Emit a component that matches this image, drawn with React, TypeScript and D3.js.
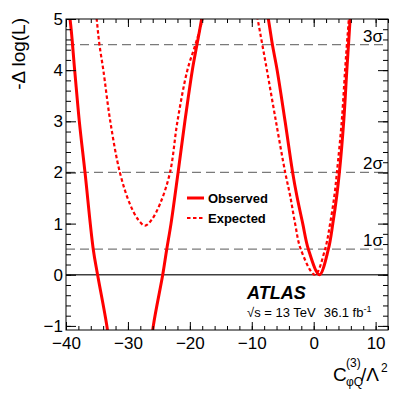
import React, { useEffect, useRef } from 'react';
import * as d3 from 'd3';

// observed likelihood scan
const obsX = [-40.3, -39.35, -38.6, -37.85, -36.93, -35.6, -34.9, -33.4, -32.4, -29.6, -26.8, -25.9, -24.38, -23.73, -23.04, -21.9, -20.8, -19.6, -18.85, -18.1, -13, -7.32, -6.67, -5.9, -4.62, -3.4, -2.73, -1.77, -0.86, 0.92, 2.37, 3.09, 3.73, 4.15, 4.85, 5.35, 5.62, 5.88, 6.3];
const obsY = [5.7, 5, 4, 3, 2, 0.5, 0, -1, -1.9, -3.0, -1.9, -1, 0, 0.5, 1, 2, 3, 4, 4.5, 5, 9, 5, 4.5, 4, 3, 2, 1.55, 1, 0.5, 0, 0.5, 1, 1.55, 2, 3, 4, 4.5, 5, 6];

// expected (Asimov) scan
const expX = [-36.2, -35.05, -34.6, -33.97, -32.85, -31.3, -29.7, -28.3, -27.24, -26.2, -24.8, -23.2, -22.0, -20.4, -19.1, -17.95, -13.5, -9.05, -8.3, -7.55, -6.1, -4.6, -3.81, -3.0, -2.09, 0.2, 1.84, 2.65, 3.35, 3.75, 4.53, 5.07, 5.36, 5.67, 6.1];
const expY = [6.3, 5, 4.5, 4, 3, 2, 1.39, 1.07, 0.96, 1.07, 1.39, 2, 3, 4, 4.5, 5, 8, 5, 4.5, 4, 3, 2, 1.55, 1, 0.5, 0, 0.5, 1, 1.55, 2, 3, 4, 4.5, 5, 6];

// sigma reference lines
const sigmaLevels = [0.5, 2, 4.5];
const sigmaLabels = ['1σ', '2σ', '3σ'];

const xMajor = [-40, -30, -20, -10, 0, 10];
const yMajor = [-1, 0, 1, 2, 3, 4, 5];

const FONT = "'Liberation Sans', Arial, Helvetica, sans-serif";

const App = () => {
  const ref = useRef<SVGSVGElement | null>(null);

  useEffect(() => {
    const W = 409;
    const H = 393;
    const m = { left: 66, right: 21, top: 19, bottom: 63 };
    const innerW = W - m.left - m.right;
    const innerH = H - m.top - m.bottom;

    const svg = d3.select(ref.current);
    svg.selectAll('*').remove();

    const x = d3.scaleLinear().domain([-40, 12]).range([0, innerW]);
    const y = d3.scaleLinear().domain([-1.08, 5]).range([innerH, 0]);

    const g = svg.append('g').attr('transform', `translate(${m.left},${m.top})`);

    svg.append('defs').append('clipPath').attr('id', 'plotclip')
      .append('rect').attr('width', innerW).attr('height', innerH);

    // sigma lines
    g.selectAll('.sig')
      .data(sigmaLevels)
      .enter()
      .append('line')
      .attr('x1', 0)
      .attr('x2', innerW)
      .attr('y1', d => y(d))
      .attr('y2', d => y(d))
      .attr('stroke', '#7a7a7a')
      .attr('stroke-width', 1.3)
      .attr('stroke-dasharray', '9,5');

    g.selectAll('.siglab')
      .data(sigmaLevels)
      .enter()
      .append('text')
      .attr('x', innerW - 5)
      .attr('y', d => y(d) - 3)
      .attr('text-anchor', 'end')
      .style('font-family', FONT)
      .style('font-size', '17px')
      .text((d, i) => sigmaLabels[i]);

    // zero line
    g.append('line')
      .attr('x1', 0)
      .attr('x2', innerW)
      .attr('y1', y(0))
      .attr('y2', y(0))
      .attr('stroke', '#404040')
      .attr('stroke-width', 1.6);

    const line = d3.line<number>()
      .x(d => x(d))
      .curve(d3.curveCatmullRom.alpha(0.5));

    const curves = g.append('g').attr('clip-path', 'url(#plotclip)');

    curves.append('path')
      .datum(expX)
      .attr('fill', 'none')
      .attr('stroke', '#ff0000')
      .attr('stroke-width', 2.2)
      .attr('stroke-dasharray', '3.5,2.5')
      .attr('d', line.y((d, i) => y(expY[i])));

    curves.append('path')
      .datum(obsX)
      .attr('fill', 'none')
      .attr('stroke', '#ff0000')
      .attr('stroke-width', 3)
      .attr('d', line.y((d, i) => y(obsY[i])));

    // ticks, ROOT style: inward on all four sides
    const ticks = (axis: any, tr: string) => {
      const a = g.append('g').attr('transform', tr).call(axis);
      a.select('.domain').remove();
      a.selectAll('line').attr('stroke', '#000').attr('stroke-width', 1);
      return a;
    };
    const xMinor = d3.range(-40, 13, 2);
    const yMinor = d3.range(-1, 5.01, 0.2);

    ticks(d3.axisBottom(x).tickValues(xMinor).tickSize(-4).tickFormat(() => ''), `translate(0,${innerH})`);
    ticks(d3.axisTop(x).tickValues(xMinor).tickSize(-4).tickFormat(() => ''), 'translate(0,0)');
    ticks(d3.axisTop(x).tickValues(xMajor).tickSize(-8).tickFormat(() => ''), 'translate(0,0)');
    const xa = ticks(
      d3.axisBottom(x).tickValues(xMajor).tickSize(-8).tickPadding(7).tickFormat(d3.format('d')),
      `translate(0,${innerH})`
    );
    xa.selectAll('text').style('font-family', FONT).style('font-size', '17px').attr('fill', '#000');

    ticks(d3.axisLeft(y).tickValues(yMinor).tickSize(-5).tickFormat(() => ''), 'translate(0,0)');
    ticks(d3.axisRight(y).tickValues(yMinor).tickSize(-5).tickFormat(() => ''), `translate(${innerW},0)`);
    ticks(d3.axisRight(y).tickValues(yMajor).tickSize(-10).tickFormat(() => ''), `translate(${innerW},0)`);
    const ya = ticks(
      d3.axisLeft(y).tickValues(yMajor).tickSize(-10).tickPadding(3).tickFormat(d3.format('d')),
      'translate(0,0)'
    );
    ya.selectAll('text').style('font-family', FONT).style('font-size', '17px').attr('fill', '#000');

    // frame
    g.append('rect')
      .attr('width', innerW)
      .attr('height', innerH)
      .attr('fill', 'none')
      .attr('stroke', '#000')
      .attr('stroke-width', 1);

    // axis titles
    svg.append('text')
      .attr('transform', 'rotate(-90)')
      .attr('x', -18)
      .attr('y', 25)
      .attr('text-anchor', 'end')
      .style('font-family', FONT)
      .style('font-size', '19px')
      .text('-Δ log(L)');

    const xt = svg.append('g').style('font-family', FONT);
    xt.append('text').attr('x', 333).attr('y', 381).style('font-size', '19px').text('C');
    xt.append('text').attr('x', 346).attr('y', 367).style('font-size', '12px').text('(3)');
    xt.append('text').attr('x', 346).attr('y', 386).style('font-size', '12px').text('φQ');
    xt.append('text').attr('x', 361).attr('y', 381).style('font-size', '19px').text('/Λ');
    xt.append('text').attr('x', 381).attr('y', 372).style('font-size', '12px').text('2');

    // legend
    const legend = [
      { label: 'Observed', dash: null, yy: 198 },
      { label: 'Expected', dash: '3.5,2.5', yy: 218 },
    ];
    const lg = svg.append('g');
    lg.selectAll('line')
      .data(legend)
      .enter()
      .append('line')
      .attr('x1', 187)
      .attr('x2', 204)
      .attr('y1', d => d.yy)
      .attr('y2', d => d.yy)
      .attr('stroke', '#ff0000')
      .attr('stroke-width', d => (d.dash ? 2.2 : 3))
      .attr('stroke-dasharray', d => d.dash);
    lg.selectAll('text')
      .data(legend)
      .enter()
      .append('text')
      .attr('x', 208)
      .attr('y', d => d.yy + 4.5)
      .style('font-family', FONT)
      .style('font-size', '13px')
      .style('font-weight', 'bold')
      .text(d => d.label);

    // ATLAS label
    svg.append('text')
      .attr('x', 247)
      .attr('y', 299)
      .style('font-family', FONT)
      .style('font-size', '18px')
      .style('font-weight', 'bold')
      .style('font-style', 'italic')
      .text('ATLAS');

    const info = svg.append('text')
      .attr('x', 247)
      .attr('y', 317)
      .style('font-family', FONT)
      .style('font-size', '13px');
    info.append('tspan').text('√s = 13 TeV');
    info.append('tspan').attr('dx', 8).text('36.1 fb');
    info.append('tspan').attr('dy', -5).style('font-size', '9px').text('-1');
  }, []);

  return (
    <svg
      ref={ref}
      width={409}
      height={393}
      style={{ position: 'absolute', left: 0, top: 0, background: '#fff' }}
    />
  );
};

export default App;
